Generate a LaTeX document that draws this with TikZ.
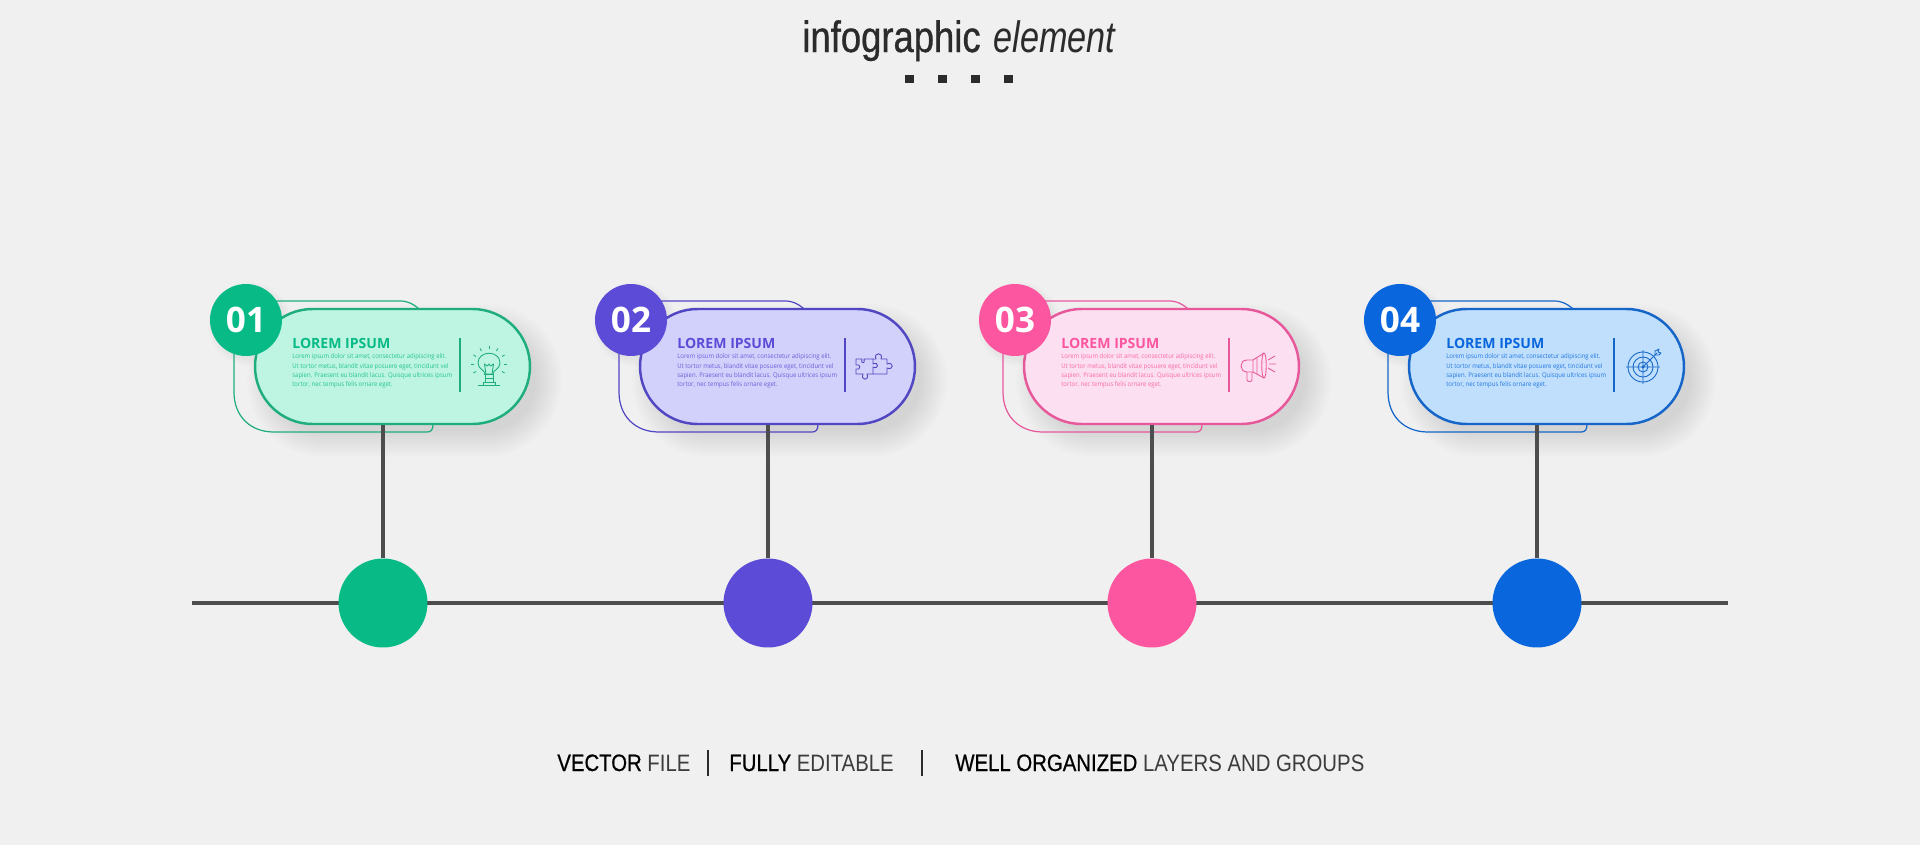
\documentclass[tikz,border=0pt]{standalone}
\usepackage{fontspec}
\setmainfont{Open Sans}
\newfontfamily\titlefont[FakeStretch=0.83,FakeBold=0.7]{Liberation Sans}
\newfontfamily\subtitlefont[FakeStretch=0.78]{Liberation Sans}
\newfontfamily\capsfont[FakeStretch=0.858]{Liberation Sans}
\newfontfamily\capsbold[FakeStretch=0.858,FakeBold=0.6]{Liberation Sans}
\newfontfamily\bodyfont[FakeStretch=0.92]{Open Sans}
\usetikzlibrary{arrows.meta,positioning,shapes.misc}
\definecolor{pagebg}{HTML}{F0F0F0}
\definecolor{inkdark}{HTML}{2B2B2B}
\definecolor{stemgray}{HTML}{4D4D4D}
\definecolor{greenmain}{HTML}{08BA85}\definecolor{greenline}{HTML}{1FAD7E}\definecolor{greensoft}{HTML}{BEF5E2}
\definecolor{violetmain}{HTML}{5B4BD7}\definecolor{violetline}{HTML}{5247C2}\definecolor{violetsoft}{HTML}{D1D1FB}
\definecolor{pinkmain}{HTML}{FB569F}\definecolor{pinkline}{HTML}{E7589B}\definecolor{pinksoft}{HTML}{FCDFF0}
\definecolor{bluemain}{HTML}{0966DC}\definecolor{blueline}{HTML}{1566C8}\definecolor{bluesoft}{HTML}{BFDFFC}
\tikzset{
  card/.style ={draw,rounded rectangle,minimum width=5.5cm,minimum height=2.3cm,inner sep=0pt,line width=1.4pt},
  badge/.style={circle,minimum size=1.44cm,inner sep=0pt,text=white,font=\fontsize{20}{20}\selectfont\bfseries},
  dot/.style  ={circle,minimum size=1.78cm,inner sep=0pt},
  stem/.style ={stemgray,line width=2pt},
  axis/.style ={stemgray,line width=2.3pt},
  backline/.style={line width=0.7pt},
  head/.style ={anchor=base west,inner sep=0pt,font=\fontsize{8}{8}\selectfont\bfseries},
  body/.style ={anchor=north west,inner sep=0pt,align=left,font=\fontsize{3.7}{5.35}\selectfont\bodyfont},
  square/.style={fill=inkdark,minimum size=0.18cm,inner sep=0pt},
  caps/.style ={anchor=base west,inner sep=0pt,text=inkdark!92,font=\fontsize{13.5}{14}\selectfont\capsfont},
  sepline/.style={inkdark,line width=0.8pt},
  iconline/.style={line width=0.5pt,line join=round},
  pics/bulbicon/.style={code={
    \draw[iconline] (-4,7) .. controls (-4,3) and (-11,2) .. (-11,-4) .. controls (-11,-17) and (11,-17) .. (11,-4) .. controls (11,2) and (4,3) .. (4,7) -- cycle;
    \draw[iconline] (-3,7) -- (-4.5,-3) -- (-1.5,-1) -- (0,-3) -- (1.5,-1) -- (4.5,-3) -- (3,7);
    \draw[iconline] (-5,7) -- (5,7) (-4,11) -- (4,11) (-4,7) -- (-4,15) (4,7) -- (4,15) (-11,18) -- (11,18) (-6,15) -- (6,15) (-6,15) -- (-6,18) (6,15) -- (6,18);
    \foreach \a in {-180,-150,-120,-90,-60,-30,0,30,150}
      \draw[iconline] ({15*cos(\a)},{-3+15*sin(\a)}) -- ({18*cos(\a)},{-3+18*sin(\a)});
  }},
  pics/puzzleicon/.style={code={
    \draw[iconline] (-18,-8) -- (-12,-8) .. controls (-14,-3) and (-8,-3) .. (-10,-8) -- (-1,-8) -- (-1,-3) .. controls (5,-6) and (5,3) .. (-1,0) -- (-1,7) -- (-7,7) .. controls (-4,14) and (-14,14) .. (-11,7) -- (-18,7) -- (-18,2) .. controls (-13,4) and (-13,-4) .. (-18,-2) -- cycle;
    \draw[iconline] (-1,-8) -- (2,-8) .. controls (-1,-15) and (10,-15) .. (7,-8) -- (13,-8) -- (13,-3) .. controls (20,-6) and (20,4) .. (13,1) -- (13,7) -- (-1,7);
  }},
  pics/hornicon/.style={code={
    \draw[iconline] (-5,-7) -- (-11,-7) .. controls (-19,-7) and (-19,5) .. (-11,5) -- (-5,5) -- (6,11) .. controls (9,11) and (9,-14) .. (6,-14) -- cycle;
    \draw[iconline] (-5,-7) -- (-5,5) (-1,-9) -- (-1,7) (6,-14) .. controls (3,-14) and (3,11) .. (6,11);
    \draw[iconline] (-11,5) -- (-11,13) .. controls (-11,15) and (-6,15) .. (-6,13) -- (-6,5);
    \draw[iconline] (10,-7) -- (17,-11) (11,-3) -- (18,-3) (10,1) -- (17,5);
  }},
  pics/targeticon/.style={code={
    \foreach \r in {15,10,5}
      \draw[iconline] (0,0) circle[radius=\r];
    \fill (0,0) circle[radius=1.6];
    \draw[iconline] (-17,0) -- (17,0) (0,-17) -- (0,17) (0,0) -- (14,-14);
    \draw[iconline] (12,-12) -- (12,-16) -- (16,-18) -- (15,-15) -- (18,-14) -- (16,-12) -- cycle;
  }},
}
\begin{document}
\begin{tikzpicture}[x=0.02cm,y=-0.02cm]
  \fill[pagebg] (0,0) rectangle (1920,845);
  \useasboundingbox (0,0) rectangle (1920,845);
  % title
  \node[anchor=base west,inner sep=0pt,text=inkdark,font=\fontsize{25}{25}\selectfont\titlefont] (title) at (802,52) {infographic};
  \node[anchor=base west,inner sep=0pt,text=inkdark,font=\fontsize{25}{25}\selectfont\subtitlefont\itshape] (subtitle) at (993,52) {element};
  \foreach \i/\x in {1/909,2/942,3/975,4/1008}
    \node[square] (sq\i) at (\x,79) {};
  % time line
  \coordinate (lineL) at (192,603);
  \coordinate (lineR) at (1728,603);
  \draw[axis] (lineL) -- (lineR);
  % cards
  \foreach \i/\dx/\main/\edge/\soft/\icon in {1/0/greenmain/greenline/greensoft/bulbicon,
      2/385/violetmain/violetline/violetsoft/puzzleicon,
      3/769/pinkmain/pinkline/pinksoft/hornicon,
      4/1154/bluemain/blueline/bluesoft/targeticon}{
    \begin{scope}[shift={(\dx,0)}]
      % soft shadow
      \foreach \s [evaluate=\s as \r using (58+\s)*0.02] in {18,16,...,-8}
        \fill[black,opacity=0.006,rounded corners=\r cm] ({265-\s},{322-\s}) rectangle ({544+\s},{439+\s});
      \foreach \s in {6,4,2,0}
        \fill[black,opacity=0.012] (250,324) circle[radius=36+\s];
      % outline behind
      \draw[\edge,backline] (246,301) -- (400,301) .. controls (408,301) and (413,304) .. (418,308) -- (433,330) -- (433,424) .. controls (433,430) and (431,432) .. (427,432) -- (274,432) .. controls (250,432) and (234,416) .. (234,392) -- (234,320);
      \node[card,draw=\edge,fill=\soft] (card\i) at (392.5,366.5) {};
      \draw[\edge,line width=0.8pt] (460,338) -- (460,392);
      \node[head,text=\main] (head\i) at (292,348) {LOREM IPSUM};
      \node[body,text=\main!85!\soft] (body\i) at (292,353.5) {Lorem ipsum dolor sit amet, consectetur adipiscing elit.\\Ut tortor metus, blandit vitae posuere eget, tincidunt vel\\sapien. Praesent eu blandit lacus. Quisque ultrices ipsum\\tortor, nec tempus felis ornare eget.};
      \pic[\edge,draw=\edge,fill=\edge] at (489,367) {\icon};
      \node[badge,fill=\main] (badge\i) at (246,320) {0\i};
      \node[dot,fill=\main] (dot\i) at (383,603) {};
      \draw[stem] (dot\i |- card\i.south) -- (dot\i);
    \end{scope}
  }
  % bottom text
  \node[caps] (vector) at (557,771) {{\capsbold\color{black}VECTOR} FILE};
  \draw[sepline] (708,750) -- (708,776);
  \node[caps] (fully) at (729,771) {{\capsbold\color{black}FULLY} EDITABLE};
  \draw[sepline] (922,750) -- (922,776);
  \node[caps] (well) at (955,771) {{\capsbold\color{black}WELL ORGANIZED} LAYERS AND GROUPS};
\end{tikzpicture}
\end{document}
